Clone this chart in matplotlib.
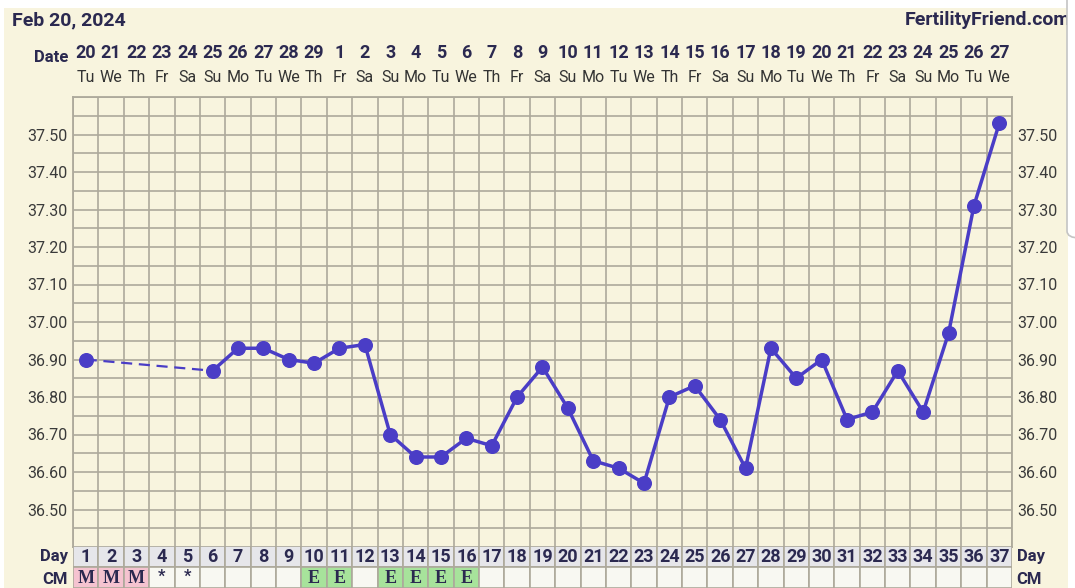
import numpy as np
import matplotlib
matplotlib.use('Agg')
import matplotlib.pyplot as plt
from matplotlib.patches import Rectangle, FancyBboxPatch

plt.rcParams['font.family'] = ['Roboto', 'DejaVu Sans']

# datos del grafico
dias = list(range(1, 38))
fechas = [20, 21, 22, 23, 24, 25, 26, 27, 28, 29, 1, 2, 3, 4, 5, 6, 7, 8, 9, 10,
          11, 12, 13, 14, 15, 16, 17, 18, 19, 20, 21, 22, 23, 24, 25, 26, 27]
semana = ['Tu', 'We', 'Th', 'Fr', 'Sa', 'Su', 'Mo', 'Tu', 'We', 'Th', 'Fr', 'Sa', 'Su',
          'Mo', 'Tu', 'We', 'Th', 'Fr', 'Sa', 'Su', 'Mo', 'Tu', 'We', 'Th', 'Fr', 'Sa',
          'Su', 'Mo', 'Tu', 'We', 'Th', 'Fr', 'Sa', 'Su', 'Mo', 'Tu', 'We']
temps = [36.90, None, None, None, None, 36.87, 36.93, 36.93, 36.90, 36.89, 36.93, 36.94,
         36.70, 36.64, 36.64, 36.69, 36.67, 36.80, 36.88, 36.77, 36.63, 36.61, 36.57,
         36.80, 36.83, 36.74, 36.61, 36.93, 36.85, 36.90, 36.74, 36.76, 36.87, 36.76,
         36.97, 37.31, 37.53]
cm = ['M', 'M', 'M', '*', '*', '', '', '', '', 'E', 'E', '', 'E', 'E', 'E', 'E'] + [''] * 21

W, H = 1075, 588
beige = '#F8F4DE'
navy = '#2B2950'
grid_c = '#ADA99B'
linea = '#4A3DC6'


def fx(px):
    return px / W


def fy(py):
    return 1 - py / H


fig = plt.figure(figsize=(W / 100, H / 100), dpi=100, facecolor='white')

# fondo beige
fig.patches.append(Rectangle((fx(4), 0), fx(1064), fy(8), transform=fig.transFigure,
                             facecolor=beige, edgecolor='none', zorder=-10))

# grafico principal
ax = fig.add_axes([fx(73), fy(547), fx(1012 - 73), (547 - 97) / H])
ax.set_facecolor(beige)
ax.set_xlim(0.5, 37.5)
ax.set_ylim(36.40, 37.60)
ax.set_xticks(np.arange(0.5, 38, 1), minor=True)
ax.set_xticks([])
ax.set_yticks(np.round(np.arange(36.5, 37.55, 0.1), 2))
ax.set_yticks(np.arange(36.40, 37.61, 0.05), minor=True)
ax.set_yticklabels(['%.2f' % v for v in np.arange(36.5, 37.55, 0.1)])
ax.grid(True, which='both', color=grid_c, lw=1.2)
ax.tick_params(which='both', length=0, labelsize=11.5, labelcolor='#3a3a3a',
               left=True, right=True, labelleft=True, labelright=True, pad=4)
for s in ax.spines.values():
    s.set_color(grid_c)
    s.set_linewidth(1.3)
ax.set_axisbelow(True)

# linea punteada hasta el primer dato seguido
validos = [(d, t) for d, t in zip(dias, temps) if t is not None]
ax.plot([validos[0][0], validos[1][0]], [validos[0][1], validos[1][1]],
        color=linea, lw=1.6, ls=(0, (5, 3)), zorder=3)
xs = [d for d, t in validos[1:]]
ys = [t for d, t in validos[1:]]
ax.plot(xs, ys, color=linea, lw=2.5, zorder=4)
ax.plot([d for d, t in validos], [t for d, t in validos], 'o', color=linea,
        markersize=9.8, zorder=5)

# filas Day y CM
axr = fig.add_axes([fx(73), 0, fx(1012 - 73), (589 - 547) / H])
axr.set_xlim(0.5, 37.5)
axr.set_ylim(2, 0)
axr.axis('off')
colores_cm = {'M': '#F5C3D0', 'E': '#A7E39B'}
for d, c in zip(dias, cm):
    axr.add_patch(Rectangle((d - 0.5, 0), 1, 1, facecolor='#E6E6EA', edgecolor=grid_c, lw=1.2))
    axr.add_patch(Rectangle((d - 0.5, 1), 1, 1, facecolor=colores_cm.get(c, '#F8F8F2'),
                            edgecolor=grid_c, lw=1.2))
    axr.text(d, 0.5, str(d), ha='center', va='center', fontsize=13, fontweight='bold', color=navy)
    if c == '*':
        axr.text(d, 1.45, c, ha='center', va='center', fontsize=12,
                 fontweight='bold', color=navy)
    elif c:
        axr.text(d, 1.55, c, ha='center', va='center', fontsize=13,
                 fontweight='bold', color=navy, family='Liberation Serif')

# textos de cabecera
fig.text(fx(12), fy(20), 'Feb 20, 2024', fontsize=14, fontweight='bold', color=navy,
         ha='left', va='center')
fig.text(fx(1071), fy(20), 'FertilityFriend.com', fontsize=14, fontweight='bold', color=navy,
         ha='right', va='center')
fig.text(fx(68), fy(58), 'Date', fontsize=12, fontweight='bold', color=navy, ha='right', va='center')
for d, n, s in zip(dias, fechas, semana):
    x = 73 + (d - 0.5) * (939 / 37)
    fig.text(fx(x), fy(53), str(n), fontsize=13, fontweight='bold', color=navy, ha='center', va='center')
    fig.text(fx(x), fy(77), s, fontsize=11.5, color='#333333', ha='center', va='center')

fig.text(fx(68), fy(557), 'Day', fontsize=12, fontweight='bold', color=navy, ha='right', va='center')
fig.text(fx(68), fy(580), 'CM', fontsize=12, fontweight='bold', color=navy, ha='right', va='center')
fig.text(fx(1017), fy(557), 'Day', fontsize=12, fontweight='bold', color=navy, ha='left', va='center')
fig.text(fx(1016), fy(580), 'CM', fontsize=12, fontweight='bold', color=navy, ha='left', va='center')

# recuadro blanco del borde derecho
fig.patches.append(FancyBboxPatch((fx(1067), fy(238)), fx(30), (238 + 20) / H,
                                  boxstyle='round,pad=0,rounding_size=0.012',
                                  transform=fig.transFigure, facecolor='white',
                                  edgecolor='#C4C4C4', lw=1.2, zorder=5))

fig.savefig('out.png', dpi=100, facecolor='white')
